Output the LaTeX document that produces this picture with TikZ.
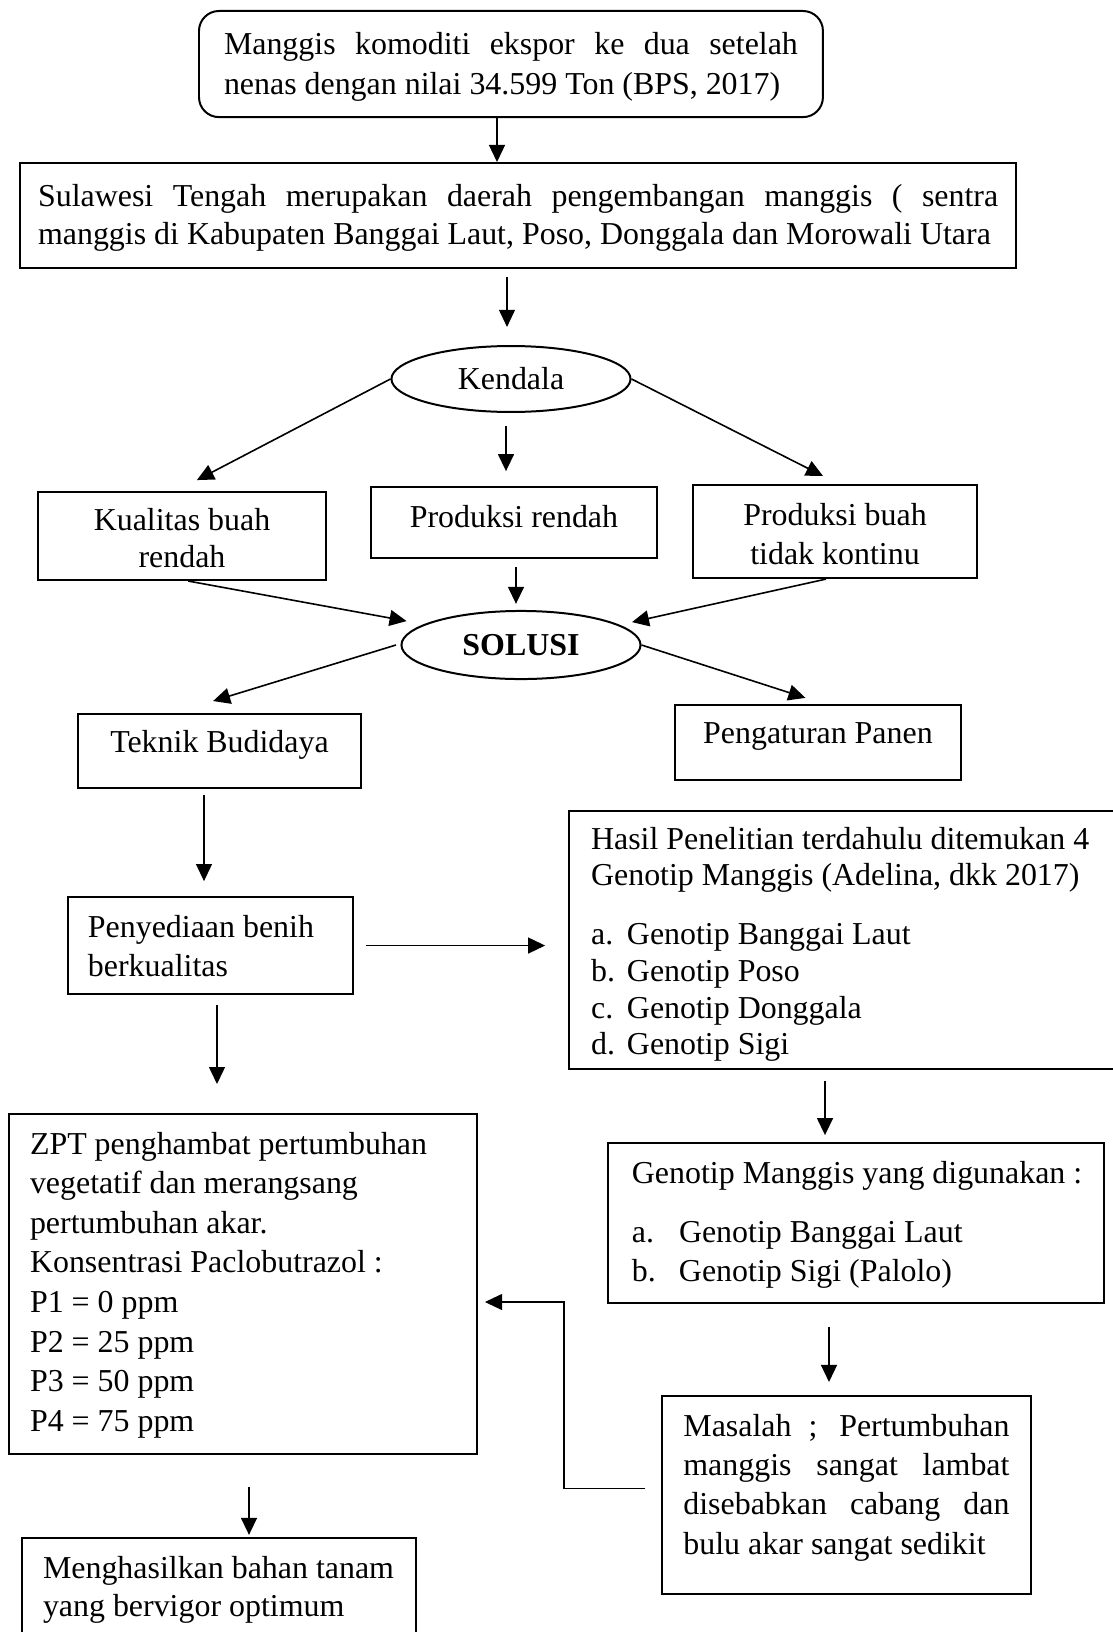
\documentclass[tikz,border=0pt]{standalone}
\usepackage{fontspec}
\setmainfont{Liberation Serif}
\usetikzlibrary{shapes,arrows.meta}
\hyphenpenalty=10000
\tikzstyle{kotak} = [draw, line width=0.75pt, rectangle, anchor=north west, inner ysep=0pt]
\tikzstyle{elips} = [draw, line width=0.75pt, ellipse, inner sep=0pt, minimum width=89.9pt, font=\fontsize{12}{14}\selectfont]
\tikzstyle{panah} = [line width=0.6pt, -{Triangle[length=6.4pt,width=6pt]}]
\tikzstyle{panahtipis} = [line width=0.4pt, -{Triangle[length=6.4pt,width=6pt]}]
\newcommand{\isikotak}[5]{%
  \begin{minipage}[c][#2][t]{#1}#3\vspace*{#4}\strut#5\end{minipage}}

\begin{document}
\begin{tikzpicture}[x=0.376pt, y=-0.376pt]
\useasboundingbox (0,0) rectangle (1113,1632);

\node[kotak, rounded corners=7.5pt, inner xsep=9.4pt, font=\fontsize{12}{14.7}\selectfont] (atas) at (198,10)
  {\isikotak{215.8pt}{39.9pt}{}{6.25pt}{Manggis komoditi ekspor ke dua setelah\linebreak nenas dengan nilai 34.599 Ton (BPS, 2017)}};
\node[kotak, inner xsep=6.8pt, font=\fontsize{12}{14.3}\selectfont] (sulteng) at (19,162)
  {\isikotak{361pt}{39.5pt}{}{6.16pt}{Sulawesi Tengah merupakan daerah pengembangan manggis ( sentra\linebreak manggis di Kabupaten Banggai Laut, Poso, Donggala dan Morowali Utara}};

\node[elips, minimum height=24.8pt] (kendala) at (511,379) {Kendala};

\node[kotak, inner xsep=8pt, font=\fontsize{12}{13.9}\selectfont] (kualitas) at (37,491)
  {\isikotak{92.3pt}{33.1pt}{\centering}{4.93pt}{Kualitas buah\\rendah}};
\node[kotak, inner xsep=8pt, font=\fontsize{12}{14}\selectfont] (rendah) at (370,486)
  {\isikotak{91.5pt}{26.7pt}{\centering}{5.6pt}{Produksi rendah}};
\node[kotak, inner xsep=8pt, font=\fontsize{12}{14.7}\selectfont] (kontinu) at (692,484)
  {\isikotak{90.8pt}{35pt}{\centering}{4.75pt}{Produksi buah\\tidak kontinu}};

\node[elips, minimum height=25.6pt] (solusi) at (521,645) {\textbf{SOLUSI}};

\node[kotak, inner xsep=8pt, font=\fontsize{12}{14}\selectfont] (teknik) at (77,713)
  {\isikotak{90.4pt}{27.8pt}{\centering}{4.86pt}{Teknik Budidaya}};
\node[kotak, inner xsep=8pt, font=\fontsize{12}{14}\selectfont] (pengaturan) at (674,704)
  {\isikotak{91.5pt}{28.2pt}{\centering}{4.49pt}{Pengaturan Panen}};

\node[kotak, inner xsep=7.5pt, font=\fontsize{12}{15}\selectfont] (penyediaan) at (67,896)
  {\isikotak{92.2pt}{36.5pt}{\raggedright}{4.54pt}{Penyediaan benih\\berkualitas}};
\node[kotak, inner xsep=8.3pt, font=\fontsize{12}{13.8}\selectfont] (hasil) at (568,810)
  {\isikotak{192.5pt}{97pt}{\raggedright}{4.63pt}{Hasil Penelitian terdahulu ditemukan 4\\Genotip Manggis (Adelina, dkk 2017)\\[8.4pt]%
   \makebox[13.5pt][l]{a.}Genotip Banggai Laut\\\makebox[13.5pt][l]{b.}Genotip Poso\\%
   \makebox[13.5pt][l]{c.}Genotip Donggala\\\makebox[13.5pt][l]{d.}Genotip Sigi}};

\node[kotak, inner xsep=7.9pt, font=\fontsize{12}{14.9}\selectfont] (zpt) at (8,1113)
  {\isikotak{160.2pt}{127.8pt}{\raggedright}{4.61pt}{ZPT penghambat pertumbuhan\\vegetatif dan merangsang\\pertumbuhan akar.\\Konsentrasi Paclobutrazol :\\%
   P1 = 0 ppm\\P2 = 25 ppm\\P3 = 50 ppm\\P4 = 75 ppm}};
\node[kotak, inner xsep=9pt, font=\fontsize{12}{14.7}\selectfont] (genotip) at (607,1142)
  {\isikotak{168.4pt}{60.2pt}{\raggedright}{4.75pt}{\mbox{Genotip Manggis yang digunakan :}\\[7.5pt]%
   \makebox[17.7pt][l]{a.}Genotip Banggai Laut\\\makebox[17.7pt][l]{b.}Genotip Sigi (Palolo)}};
\node[kotak, inner xsep=8.05pt, font=\fontsize{12}{14.8}\selectfont] (masalah) at (661,1395)
  {\isikotak{122.6pt}{74.4pt}{}{4.68pt}{Masalah ; Pertumbuhan\linebreak manggis sangat lambat\linebreak disebabkan cabang dan\linebreak bulu akar sangat sedikit}};
\node[kotak, inner xsep=7.9pt, font=\fontsize{12}{14.3}\selectfont] (hasilakhir) at (21,1537)
  {\isikotak{132.3pt}{46.2pt}{\raggedright}{5.03pt}{\mbox{Menghasilkan bahan tanam}\\yang bervigor optimum}};

\draw[panah] (497,0 |- atas.south) -- (497,0 |- sulteng.north);
\draw[panahtipis, shorten <=3pt, shorten >=6.8pt] (507,0 |- sulteng.south) -- (507,0 |- kendala.north);
\draw[panah] (kendala.west) -- ([xshift=5.6pt,yshift=4.1pt]kualitas.north);
\draw[panah, shorten <=4.9pt, shorten >=5.6pt] (506,0 |- kendala.south) -- (506,0 |- rendah.north);
\draw[panah] (kendala.east) -- ([xshift=-4.5pt,yshift=3pt]kontinu.north);
\draw[panah] ([xshift=2.3pt]kualitas.south) -- ([xshift=2.3pt,yshift=9pt]solusi.west);
\draw[panah, shorten <=3pt, shorten >=2.3pt] (516,0 |- rendah.south) -- (516,0 |- solusi.north);
\draw[panah] ([xshift=-3.4pt]kontinu.south) -- ([xshift=-3.6pt,yshift=8.6pt]solusi.east);
\draw[panah] ([xshift=-1.7pt]solusi.west) -- ([xshift=-2.4pt,yshift=4.5pt]teknik.north);
\draw[panah] (solusi.east) -- ([xshift=-4.7pt,yshift=2.3pt]pengaturan.north);
\draw[panahtipis, shorten <=2.3pt, shorten >=5.6pt] (204,0 |- teknik.south) -- (204,0 |- penyediaan.north);
\draw[panah, shorten <=4.5pt, shorten >=8.6pt] (penyediaan.east) -- (penyediaan.east -| hasil.west);
\draw[panah, shorten <=3.8pt, shorten >=10.9pt] (217,0 |- penyediaan.south) -- (217,0 |- zpt.north);
\draw[panah, shorten <=4.1pt, shorten >=2.6pt] (825,0 |- hasil.south) -- (825,0 |- genotip.north);
\draw[panah, shorten <=8.6pt, shorten >=4.9pt] (829,0 |- genotip.south) -- (829,0 |- masalah.north);
\draw[panahtipis, shorten >=2.6pt] ([xshift=-6pt,yshift=2.3pt]masalah.west) -| (564,1302) -- (zpt.east |- 0,1302);
\draw[panah, shorten <=12pt, shorten >=0.8pt] (249,0 |- zpt.south) -- (249,0 |- hasilakhir.north);
\end{tikzpicture}
\end{document}
